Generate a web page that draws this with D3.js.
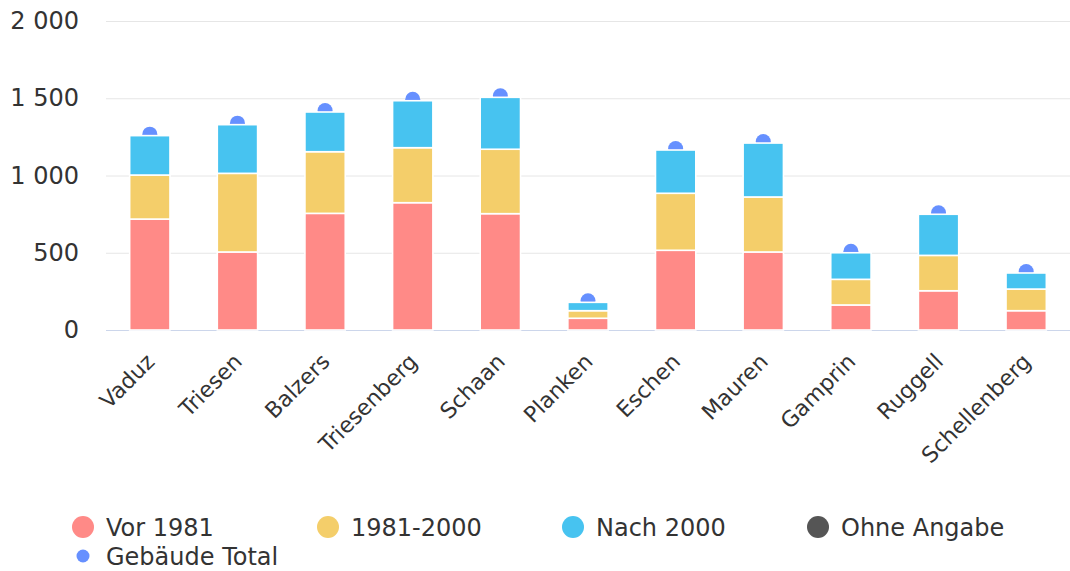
<!DOCTYPE html>
<html>
<head>
<meta charset="utf-8">
<script src="https://cdn.jsdelivr.net/npm/d3@7"></script>
<style>
  body { margin: 0; background: #fff; }
  .display { width: 1070px; height: 571px; }
  text { font-family: "DejaVu Sans", Verdana, sans-serif; fill: #333; }
</style>
</head>
<body>
<div class="display"><div class="display__svg"></div></div>
<script>
const gemeinden = ["Vaduz", "Triesen", "Balzers", "Triesenberg", "Schaan", "Planken",
  "Eschen", "Mauren", "Gamprin", "Ruggell", "Schellenberg"];
const vor1981 = [718, 505, 755, 824, 753, 76, 516, 505, 162, 254, 125];
const von1981bis2000 = [285, 509, 399, 356, 417, 49, 369, 356, 166, 229, 140];
const nach2000 = [255, 315, 257, 304, 336, 54, 280, 349, 172, 266, 104];
const ohneAngabe = [0, 0, 0, 0, 0, 0, 0, 0, 0, 0, 0];
const gebaeudeTotal = [1258, 1329, 1411, 1484, 1506, 179, 1165, 1210, 500, 749, 369];
const seriesNames = ["Vor 1981", "1981-2000", "Nach 2000", "Ohne Angabe"];
const seriesColors = ["#ff8a87", "#f4ce6a", "#47c3f0", "#555555"];
const totalName = "Gebäude Total";
const totalColor = "#6690ff";
const yTicks = [0, 500, 1000, 1500, 2000];

class StackedBars {
  constructor() {
    this.sizes = {
      width: 1070,
      height: 571,
      margin: { top: 21, right: 0, bottom: 241, left: 106 }
    };
    this.keys = ["vor", "mid", "nach", "ohne"];
    this.rows = gemeinden.map((g, i) => ({
      name: g,
      vor: vor1981[i],
      mid: von1981bis2000[i],
      nach: nach2000[i],
      ohne: ohneAngabe[i],
      total: gebaeudeTotal[i]
    }));
    this.svg = d3.select(".display__svg").append("svg")
      .attr("width", this.sizes.width)
      .attr("height", this.sizes.height);
    this.createScale().addGrid().addAxis().addBars().addLegend();
  }

  createScale() {
    const { width, height, margin } = this.sizes;
    this.xScale = d3.scaleBand()
      .domain(gemeinden)
      .range([margin.left, width - margin.right])
      .paddingInner(0.54)
      .paddingOuter(0.27);
    this.yScale = d3.scaleLinear()
      .domain([0, 2000])
      .range([height - margin.bottom, margin.top]);
    return this;
  }

  addGrid() {
    const { width, margin } = this.sizes;
    this.svg.append("g").selectAll("line")
      .data(yTicks)
      .join("line")
      .attr("x1", margin.left)
      .attr("x2", width - margin.right)
      .attr("y1", d => this.yScale(d) + 0.5)
      .attr("y2", d => this.yScale(d) + 0.5)
      .attr("stroke", d => d === 0 ? "#ccd6eb" : "#e6e6e6")
      .attr("stroke-width", 1);
    return this;
  }

  addAxis() {
    const fmt = d3.formatLocale({ decimal: ",", thousands: " ", grouping: [3], currency: ["", ""] }).format(",");
    const yAxis = d3.axisLeft(this.yScale).tickValues(yTicks).tickSize(0).tickPadding(0).tickFormat(fmt);
    this.svg.append("g")
      .attr("transform", "translate(79,0)")
      .call(yAxis)
      .call(g => g.select(".domain").remove())
      .selectAll("text")
      .attr("font-size", 24)
      .attr("fill", "#333")
      .style("font-family", "'DejaVu Sans', sans-serif");

    const xAxis = d3.axisBottom(this.xScale).tickSize(0).tickPadding(0);
    const base = this.yScale(0);
    this.svg.append("g")
      .attr("transform", `translate(0,${base})`)
      .call(xAxis)
      .call(g => g.select(".domain").remove())
      .selectAll("text")
      .attr("font-size", 22)
      .attr("fill", "#333")
      .style("font-family", "'DejaVu Sans', sans-serif")
      .attr("text-anchor", "end")
      .attr("dy", 0)
      .attr("y", 0)
      .attr("transform", "translate(6,33) rotate(-45)");
    return this;
  }

  addBars() {
    const stacked = d3.stack().keys(this.keys)(this.rows);
    const bw = this.xScale.bandwidth();

    // total markers sit behind the columns, only the upper half shows
    this.svg.append("g").selectAll("circle")
      .data(this.rows)
      .join("circle")
      .attr("cx", d => this.xScale(d.name) + bw / 2)
      .attr("cy", d => this.yScale(d.total) - 1.5)
      .attr("r", 7.5)
      .attr("fill", totalColor);

    this.svg.append("g").selectAll("g")
      .data(stacked)
      .join("g")
      .attr("fill", (d, i) => seriesColors[i])
      .selectAll("rect")
      .data(d => d.filter(p => p[1] - p[0] > 0))
      .join("rect")
      .attr("x", d => this.xScale(d.data.name))
      .attr("y", d => this.yScale(d[1]))
      .attr("width", bw)
      .attr("height", d => this.yScale(d[0]) - this.yScale(d[1]))
      .attr("stroke", "#fff")
      .attr("stroke-width", 1.6);
    return this;
  }

  addLegend() {
    const legend = this.svg.append("g").attr("id", "legend");
    const items = legend.selectAll("g")
      .data(seriesNames)
      .join("g")
      .attr("transform", (d, i) => `translate(${83 + i * 245},527)`);
    items.append("circle")
      .attr("r", 11)
      .attr("fill", (d, i) => seriesColors[i]);
    items.append("text")
      .attr("x", 23)
      .attr("dy", "0.36em")
      .attr("font-size", 24)
      .text(d => d);

    const tot = legend.append("g").attr("transform", "translate(83,556)");
    tot.append("circle").attr("r", 6.5).attr("fill", totalColor);
    tot.append("text")
      .attr("x", 23)
      .attr("dy", "0.36em")
      .attr("font-size", 24)
      .text(totalName);
    return this;
  }
}

new StackedBars();
</script>
</body>
</html>
